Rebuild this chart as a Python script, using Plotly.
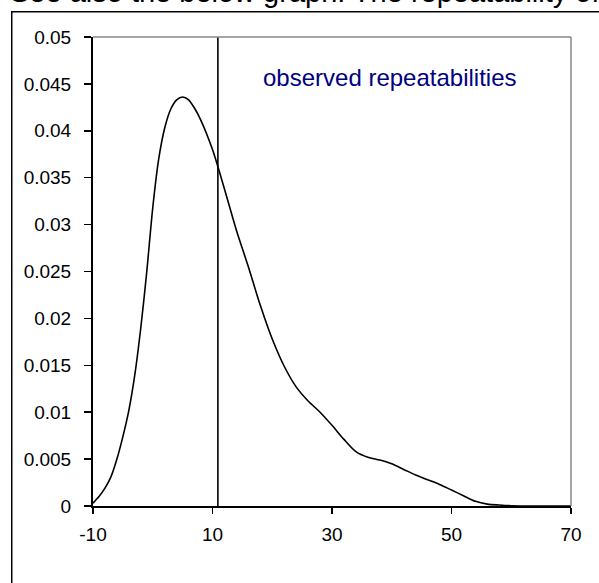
import plotly.graph_objects as go

# ---- data ----
density_x = [-10, -9, -8, -7, -6, -5, -4, -3, -2, -1, 0, 1, 2, 3, 4, 5, 6, 7, 8,
             10, 12, 14, 16, 18, 20, 22, 24, 26, 28, 30, 32, 34, 36, 38, 40, 42,
             44, 46, 48, 50, 52, 54, 56, 58, 60, 65, 70]
density_y = [0.0003, 0.0010, 0.0019, 0.0031, 0.0050, 0.0074, 0.0102, 0.0140,
             0.0190, 0.0250, 0.0318, 0.0370, 0.0403, 0.0423, 0.0433, 0.0436,
             0.0433, 0.0424, 0.0412, 0.0380, 0.0338, 0.0294, 0.0255, 0.0214,
             0.0178, 0.0149, 0.0127, 0.0112, 0.0100, 0.0086, 0.0071, 0.0058,
             0.0052, 0.0049, 0.0045, 0.0039, 0.0033, 0.0028, 0.0023, 0.0017,
             0.0011, 0.0005, 0.0002, 0.0001, 0.00003, 0.0, 0.0]
reference_value = 10.9

x_ticks = [-10, 10, 30, 50, 70]
x_tick_labels = ["-10", "10", "30", "50", "70"]
y_ticks = [0, 0.005, 0.01, 0.015, 0.02, 0.025, 0.03, 0.035, 0.04, 0.045, 0.05]
y_tick_labels = ["0", "0.005", "0.01", "0.015", "0.02", "0.025", "0.03",
                 "0.035", "0.04", "0.045", "0.05"]

annotation_text = "observed repeatabilities"
header_text = "See also the below graph. The repeatability of"

FONT = "Liberation Sans, Arial, sans-serif"

fig = go.Figure()
fig.add_trace(go.Scatter(
    x=density_x, y=density_y, mode="lines",
    line=dict(color="black", width=1.6, shape="spline", smoothing=0.8),
    hoverinfo="skip", showlegend=False,
))
fig.add_trace(go.Scatter(
    x=[reference_value, reference_value], y=[0, 0.05], mode="lines",
    line=dict(color="black", width=1.6),
    hoverinfo="skip", showlegend=False,
))

fig.update_layout(
    width=599, height=583, autosize=False,
    margin=dict(l=93, r=28, t=37, b=77, pad=0),
    paper_bgcolor="white", plot_bgcolor="white",
    font=dict(family=FONT, size=19, color="black"),
    showlegend=False,
)
fig.update_xaxes(
    range=[-10, 70], tickmode="array", tickvals=x_ticks, ticktext=x_tick_labels,
    showgrid=False, zeroline=False, showline=True, linecolor="black", linewidth=2,
    ticks="outside", ticklen=6, tickwidth=1.5, tickcolor="black",
    ticklabelstandoff=4,
    tickfont=dict(family=FONT, size=19, color="black"),
)
fig.update_yaxes(
    range=[0, 0.05], tickmode="array", tickvals=y_ticks, ticktext=y_tick_labels,
    showgrid=False, zeroline=False, showline=True, linecolor="black", linewidth=2,
    ticks="outside", ticklen=7, tickwidth=1.5, tickcolor="black",
    ticklabelstandoff=9,
    tickfont=dict(family=FONT, size=19, color="black"),
)

# gray top and right frame lines
fig.add_shape(type="line", xref="paper", yref="paper", x0=0, x1=1, y0=1, y1=1,
              line=dict(color="#888888", width=1.5))
fig.add_shape(type="line", xref="paper", yref="paper", x0=1, x1=1, y0=0, y1=1,
              line=dict(color="#888888", width=1.5))
# outer chart border (cropped on the right and bottom)
fig.add_shape(type="rect", xref="paper", yref="paper", x0=-0.170, x1=1.1, y0=-0.25, y1=1.054,
              line=dict(color="black", width=1.5), fillcolor="rgba(0,0,0,0)", layer="above")

fig.add_annotation(
    text=annotation_text, xref="paper", yref="paper", x=0.621, y=0.9126,
    xanchor="center", yanchor="middle", showarrow=False,
    font=dict(family=FONT, size=24, color="#000080"),
)
fig.add_annotation(
    text=header_text, xref="paper", yref="paper", x=-0.1778, y=1.0575,
    xanchor="left", yanchor="bottom", showarrow=False,
    font=dict(family=FONT, size=29, color="black"),
)

fig.write_html(
    "out.html",
    config={"displayModeBar": False, "staticPlot": True},
    post_script="document.body.style.margin='0';document.body.style.overflow='hidden';",
)
